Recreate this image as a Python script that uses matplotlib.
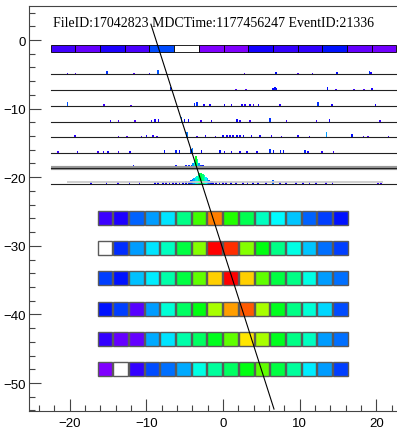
import matplotlib
matplotlib.use("Agg")
import matplotlib.pyplot as plt
from matplotlib.colors import LinearSegmentedColormap, Normalize
from matplotlib.patches import Rectangle
from matplotlib.ticker import MultipleLocator

# event header
title = "FileID:17042823 MDCTime:1177456247 EventID:21336"

# top strip (levels 0..1, 0 = empty)
strip_x0 = -22.47
strip_w = 3.22
strip_y = -1.75
strip_lv = [0.056, 0.028, 0.09, 0.048, 0.18, 0.0, 0.004, 0.002,
            0.096, 0.07, 0.075, 0.126, 0.026, 0.015]

# wire traces: baselines and spikes (x, height)
trace_base = [-5.02, -7.3, -9.59, -11.88, -14.15, -16.44, -18.67, -21.0]
trace_x = [
    [-20.3, -19.26, -15.1, -11.6, -9.57, -8.5, 2.8, 6.93, 9.75, 11.7, 14.87, 19.1, 19.3],
    [-6.84, 1.72, 3.0, 6.5, 6.76, 7.0, 13.6, 14.75, 17.1, 18.4, 19.4],
    [-20.3, -15.5, -12.0, -3.7, -3.4, -2.5, -1.7, 0.2, 1.1, 2.5, 2.9, 3.5, 4.0, 4.6, 7.4, 12.4, 14.2, 19.9],
    [-14.7, -13.6, -11.5, -9.3, -8.9, -8.4, -5.4, -5.0, -4.5, -2.9, -1.5, 1.8, 2.2, 3.5, 6.1, 8.3, 12.2, 13.9, 20.5],
    [-19.3, -13.6, -12.5, -10.6, -9.95, -9.1, -8.6, -4.7, -3.4, -2.3, -1.0, 0.0, 0.5, 0.9, 1.3, 1.8, 2.2,
     2.65, 3.7, 4.8, 6.3, 7.6, 9.8, 11.3, 13.5, 16.8, 18.3, 18.9, 21.6],
    [-21.5, -19.0, -16.3, -15.6, -15.0, -13.6, -12.1, -7.6, -6.1, -5.7, -4.2, -3.95, -2.8, -0.4, 0.2, 1.1,
     2.2, 3.1, 4.4, 6.1, 6.6, 7.5, 7.9, 10.7, 11.1, 12.9, 14.4],
    [-19.57, -18.5, -17.4, -16.5, -14.4, -13.5, -12.0, -11.7, -11.3, -10.0, -9.6, -8.5, -8.1, -7.4, -7.0,
     -6.5, -6.1, -5.7, -5.23, -4.8, -4.4, -4.1, -3.9, -3.7, -3.5, -3.3, -3.1, -2.9, -2.6, -2.2, -1.76,
     -1.1, -0.67, -0.24, 0.2, 1.3, 2.15, 3.45, 4.1, 4.7, 5.2, 5.6, 6.06, 6.5, 6.9, 7.4, 8.45, 9.1, 9.5,
     10.0, 15.6, 17.35, 19.5, 21.3],
    [-17.2, -15.2, -13.7, -12.2, -10.9, -8.9, -8.5, -7.84, -7.4, -7.0, -6.5, -6.1, -5.7, -5.2, -4.8,
     -4.4, -4.2, -4.0, -3.8, -3.6, -3.4, -3.2, -3.0, -2.8, -2.6, -2.4, -2.2, -2.0, -1.8, -1.6, -1.4,
     -1.3, -0.89, -0.46, -0.03, 0.4, 1.06, 1.7, 2.6, 3.2, 3.9, 4.55, 5.6, 6.5, 7.4, 8.2, 9.5, 10.4,
     11.3, 12.1, 13.4, 14.3, 20.2, 20.6],
]
trace_h = [
    [0.2, 0.15, 0.5, 0.15, 0.2, 0.6, 0.15, 0.4, 0.15, 0.2, 0.4, 0.5, 0.3],
    [0.5, 0.15, 0.15, 0.35, 0.4, 0.35, 0.4, 0.2, 0.2, 0.15, 0.3],
    [0.6, 0.2, 0.15, 0.45, 0.5, 0.3, 0.3, 0.3, 0.25, 0.3, 0.25, 0.3, 0.2, 0.3, 0.25, 0.5, 0.3, 0.3],
    [0.25, 0.15, 0.15, 0.25, 0.3, 0.3, 0.7, 0.4, 0.35, 0.2, 0.25, 0.35, 0.25, 0.2, 0.5, 0.2, 0.2, 0.3, 0.2],
    [0.25, 0.15, 0.15, 0.2, 0.3, 0.25, 0.2, 0.7, 0.2, 0.25, 0.2, 0.35, 0.3, 0.3, 0.3, 0.35, 0.3,
     0.35, 0.3, 0.3, 0.25, 0.2, 0.3, 0.2, 0.8, 0.4, 0.2, 0.15, 0.2],
    [0.2, 0.25, 0.2, 0.25, 0.3, 0.2, 0.3, 0.4, 0.45, 0.35, 0.6, 0.7, 0.35, 0.4, 0.3, 0.3,
     0.3, 0.3, 0.3, 0.5, 0.4, 0.45, 0.4, 0.45, 0.3, 0.25, 0.2],
    [0.3, 0.25, 0.3, 0.3, 0.25, 0.3, 0.35, 0.4, 0.3, 0.25, 0.3, 0.35, 0.3, 0.3, 0.35,
     0.3, 0.4, 0.35, 0.35, 0.4, 0.45, 0.5, 0.8, 1.2, 1.7, 1.3, 0.8, 0.5, 0.4, 0.35, 0.3,
     0.35, 0.3, 0.3, 0.35, 0.3, 0.3, 0.35, 0.3, 0.3, 0.3, 0.35, 0.3, 0.3, 0.3, 0.35, 0.3, 0.3, 0.25,
     0.3, 0.25, 0.2, 0.2, 0.2],
    [0.3, 0.3, 0.25, 0.3, 0.25, 0.35, 0.3, 0.35, 0.3, 0.35, 0.3, 0.35, 0.3, 0.35, 0.4,
     0.45, 0.55, 0.7, 0.85, 1.0, 1.2, 1.4, 1.55, 1.6, 1.45, 1.25, 1.05, 0.85, 0.65, 0.5, 0.4,
     0.35, 0.3, 0.35, 0.3, 0.3, 0.35, 0.3, 0.3, 0.3, 0.35, 0.3, 0.3, 0.6, 0.3, 0.3, 0.3, 0.3,
     0.25, 0.3, 0.25, 0.25, 0.2, 0.2],
]

# calorimeter blocks: 6 rows x 16 columns, levels 0..1 (0 = empty)
block_cx0 = -15.39
block_pitch = 2.046
block_rows = [-25.93, -30.3, -34.68, -39.2, -43.57, -47.95]
block_lv = [
    [0.06, 0.09, 0.2, 0.25, 0.31, 0.44, 0.61, 0.89, 0.585, 0.485, 0.39, 0.33, 0.285, 0.2, 0.167, 0.126],
    [0.0, 0.15, 0.25, 0.31, 0.39, 0.5, 0.67, 1.0, 0.96, 0.67, 0.54, 0.44, 0.36, 0.285, 0.21, 0.167],
    [0.167, 0.126, 0.28, 0.32, 0.41, 0.5, 0.64, 0.82, 1.0, 0.82, 0.64, 0.5, 0.44, 0.36, 0.25, 0.21],
    [0.126, 0.167, 0.04, 0.25, 0.37, 0.47, 0.54, 0.7, 0.86, 0.92, 0.7, 0.53, 0.44, 0.37, 0.3, 0.18],
    [0.07, 0.026, 0.026, 0.26, 0.31, 0.41, 0.47, 0.53, 0.64, 0.8, 0.7, 0.53, 0.44, 0.39, 0.25, 0.21],
    [0.004, 0.0, 0.07, 0.18, 0.21, 0.26, 0.36, 0.42, 0.47, 0.54, 0.64, 0.5, 0.42, 0.32, 0.25, 0.167],
]

# reconstructed track
track_x = [-9.4, 6.65]
track_y = [2.3, -53.8]

cmap = LinearSegmentedColormap.from_list(
    "pal", [(0.0, "#8000ff"), (0.111, "#0000ff"), (0.333, "#00ffff"),
            (0.556, "#00ff00"), (0.778, "#ffff00"), (1.0, "#ff0000")])
cmap = cmap.with_extremes(under="white")
norm = Normalize(vmin=0.001, vmax=1.0)
hnorm = 3.2  # spike height -> palette level

plt.rcParams["font.family"] = ["Liberation Sans", "DejaVu Sans"]
fig = plt.figure(figsize=(3.97, 4.31), dpi=100)
ax = fig.add_axes([0.073, 0.0441, 0.927, 0.9397])

# top strip
for i, lv in enumerate(strip_lv):
    ax.add_patch(Rectangle((strip_x0 + i * strip_w, strip_y), strip_w, 0.96,
                           facecolor=cmap(norm(lv)), edgecolor="black", lw=0.6))

# traces
for k, base in enumerate(trace_base):
    if k == 6:
        ax.plot([strip_x0, 23], [base, base], color="#999999", lw=3.0, solid_capstyle="butt")
    if k == 7:
        ax.plot([-20.3, 20.8], [base + 0.3, base + 0.3], color="#cccccc", lw=1.3, solid_capstyle="butt")
    ax.plot([strip_x0, 23], [base, base], color="#222222", lw=0.8)
    cols = [cmap(norm(min(h / hnorm, 1.0))) for h in trace_h[k]]
    ax.bar(trace_x[k], trace_h[k], width=0.2, bottom=base, color=cols, linewidth=0)

# blocks
for r, yc in enumerate(block_rows):
    for c, lv in enumerate(block_lv[r]):
        xc = block_cx0 + c * block_pitch
        ax.add_patch(Rectangle((xc - 0.96, yc - 0.975), 1.92, 1.95,
                               facecolor=cmap(norm(lv)), edgecolor="#5a5a5a", lw=1.0))

ax.plot(track_x, track_y, color="black", lw=0.8)

ax.text(-22.2, 2.5, title, family=["Liberation Serif", "DejaVu Serif"], fontsize=10,
        va="center", ha="left")

ax.set_xlim(-25.3, 22.69)
ax.set_ylim(-54.08, 4.96)
ax.xaxis.set_major_locator(MultipleLocator(10))
ax.xaxis.set_minor_locator(MultipleLocator(2))
ax.yaxis.set_major_locator(MultipleLocator(10))
ax.yaxis.set_minor_locator(MultipleLocator(2))
ax.tick_params(which="both", direction="in", color="#444444", width=0.8, labelsize=9.5)
ax.tick_params(axis="x", which="major", length=8.6, pad=4)
ax.tick_params(axis="y", which="major", length=8.6, pad=2)
ax.tick_params(which="minor", length=4.3)
ax.spines["right"].set_visible(False)
for s in ["left", "bottom", "top"]:
    ax.spines[s].set_linewidth(0.8)
    ax.spines[s].set_color("#444444")

fig.savefig("out.png", dpi=100)
